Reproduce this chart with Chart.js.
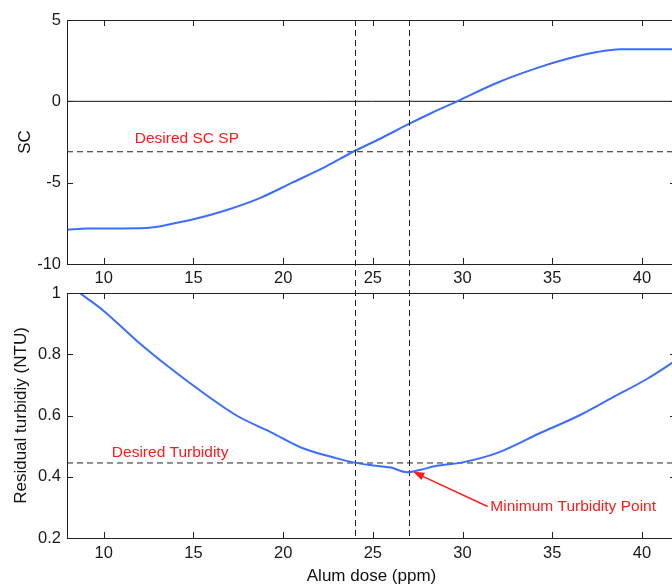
<!DOCTYPE html>
<html>
<head>
<meta charset="utf-8">
<script src="https://cdn.jsdelivr.net/npm/chart.js"></script>
<style>
    html, body { margin: 0; padding: 0; background: #fff; }
    #wrap { position: relative; width: 672px; height: 587px; overflow: hidden; }
    #wrap canvas { position: absolute; left: 0; top: 0; }
</style>
</head>
<body>
<div id="wrap">
    <canvas id="scChart" width="680" height="587"></canvas>
    <canvas id="turbChart" width="680" height="587"></canvas>
</div>
<script>
// --- dados ---
const doseRange = [7.95, 41.9];

const scDose = [7.95, 9.1, 12.4, 14.07, 15.0, 16.86, 18.7, 20.5, 22.4, 23.9, 25.4, 26.9, 28.3, 29.7, 31.9, 34.3, 35.8, 37.5, 38.8, 41.9];
const scValues = [-7.9, -7.82, -7.78, -7.47, -7.25, -6.68, -5.95, -5.0, -4.0, -3.1, -2.3, -1.45, -0.7, 0.0, 1.13, 2.1, 2.6, 3.03, 3.2, 3.2];

const turbDose = [8.66, 9.95, 11.8, 13.7, 15.5, 17.4, 19.3, 21.1, 23.0, 23.9, 25.0, 26.0, 26.9, 27.6, 28.5, 30.0, 31.9, 34.3, 36.5, 38.4, 40.3, 41.9];
const turbValues = [1.0, 0.944, 0.846, 0.755, 0.676, 0.60, 0.546, 0.493, 0.46, 0.447, 0.437, 0.43, 0.415, 0.422, 0.435, 0.447, 0.477, 0.542, 0.60, 0.66, 0.72, 0.78];

const scTicks = [-10, 5];          // min / max do eixo SC
const turbTicks = [0.2, 1];        // min / max do eixo de turbidez
const desiredSC = -3.1;
const desiredTurbidity = 0.445;
const markerDoses = [24, 27];      // linhas verticais tracejadas
const minPoint = [27.25, 0.416];   // ponta da seta
const minLabelPos = [31.4, 0.303]; // início da seta / texto

// --- layout ---
const AREA_LEFT = 67;
const TOP_AREA = { top: 20, bottom: 264 };
const BOT_AREA = { top: 293, bottom: 538 };
const CANVAS_H = 587;

const BLUE = '#3c6dff';
const RED = '#ff1a1a';
const FONT = 'Liberation Sans, Arial, Helvetica, sans-serif';

const toXY = (xs, ys) => xs.map((x, i) => ({ x: x, y: ys[i] }));
const fmt = (v) => String(+v.toFixed(2));

// moldura completa + ticks para dentro (estilo matlab)
const frameTicks = {
    id: 'frameTicks',
    afterDraw(chart) {
        const { ctx, chartArea: a, scales } = chart;
        const x = scales.x, y = scales.y;
        ctx.save();
        ctx.strokeStyle = '#222';
        ctx.lineWidth = 1;
        ctx.strokeRect(a.left + 0.5, a.top + 0.5, a.right - a.left, a.bottom - a.top);
        ctx.beginPath();
        x.ticks.forEach(t => {
            const px = Math.round(x.getPixelForValue(t.value)) + 0.5;
            ctx.moveTo(px, a.top); ctx.lineTo(px, a.top + 6);
            ctx.moveTo(px, a.bottom); ctx.lineTo(px, a.bottom - 6);
        });
        y.ticks.forEach(t => {
            const py = Math.round(y.getPixelForValue(t.value)) + 0.5;
            ctx.moveTo(a.left, py); ctx.lineTo(a.left + 6, py);
            ctx.moveTo(a.right, py); ctx.lineTo(a.right - 6, py);
        });
        ctx.stroke();
        ctx.restore();
    }
};

// linhas verticais tracejadas que atravessam os dois gráficos (desenhadas uma vez só)
const verticalMarkers = {
    id: 'verticalMarkers',
    afterDatasetsDraw(chart) {
        const { ctx, scales: { x } } = chart;
        ctx.save();
        ctx.strokeStyle = '#222';
        ctx.lineWidth = 1;
        ctx.setLineDash([6, 4]);
        markerDoses.forEach(d => {
            const px = Math.round(x.getPixelForValue(d)) + 0.5;
            ctx.beginPath();
            ctx.moveTo(px, TOP_AREA.top);
            ctx.lineTo(px, BOT_AREA.bottom);
            ctx.stroke();
        });
        ctx.restore();
    }
};

function drawLabel(chart, text, xv, yv) {
    const { ctx, scales: { x, y } } = chart;
    ctx.save();
    ctx.fillStyle = RED;
    ctx.font = '15.5px ' + FONT;
    ctx.textBaseline = 'middle';
    ctx.fillText(text, x.getPixelForValue(xv), y.getPixelForValue(yv));
    ctx.restore();
}

const scAnnotations = {
    id: 'scAnnotations',
    afterDraw(chart) {
        drawLabel(chart, 'Desired SC SP', 11.73, -2.31);
    }
};

const turbAnnotations = {
    id: 'turbAnnotations',
    afterDraw(chart) {
        const { ctx, scales: { x, y } } = chart;
        drawLabel(chart, 'Desired Turbidity', 10.45, 0.48);
        drawLabel(chart, 'Minimum Turbidity Point', minLabelPos[0] + 0.15, minLabelPos[1]);

        // seta vermelha
        const x0 = x.getPixelForValue(minLabelPos[0]), y0 = y.getPixelForValue(minLabelPos[1]);
        const x1 = x.getPixelForValue(minPoint[0]), y1 = y.getPixelForValue(minPoint[1]);
        const ang = Math.atan2(y1 - y0, x1 - x0);
        const len = 11, half = 4;
        ctx.save();
        ctx.strokeStyle = RED;
        ctx.fillStyle = RED;
        ctx.lineWidth = 1.5;
        ctx.beginPath();
        ctx.moveTo(x0, y0);
        ctx.lineTo(x1 - Math.cos(ang) * len * 0.8, y1 - Math.sin(ang) * len * 0.8);
        ctx.stroke();
        ctx.beginPath();
        ctx.moveTo(x1, y1);
        ctx.lineTo(x1 - Math.cos(ang) * len - Math.sin(ang) * half, y1 - Math.sin(ang) * len + Math.cos(ang) * half);
        ctx.lineTo(x1 - Math.cos(ang) * len + Math.sin(ang) * half, y1 - Math.sin(ang) * len - Math.cos(ang) * half);
        ctx.closePath();
        ctx.fill();
        ctx.restore();
    }
};

function baseOptions(area, xHeight, yRange, yTitle, yTitlePad, xOpts) {
    return {
        responsive: false,
        animation: false,
        events: [],
        layout: {
            padding: { top: area.top, bottom: CANVAS_H - area.bottom - xHeight, left: 0, right: 4 }
        },
        plugins: { legend: { display: false }, tooltip: { enabled: false } },
        scales: {
            x: {
                type: 'linear',
                min: doseRange[0],
                max: doseRange[1],
                grid: { display: false, drawTicks: false },
                border: { display: false },
                ticks: {
                    stepSize: 5,
                    includeBounds: false,
                    maxRotation: 0,
                    padding: xOpts.tickPad,
                    color: '#1a1a1a',
                    font: { family: FONT, size: 16.5 },
                    callback: fmt
                },
                title: xOpts.title,
                afterFit: (s) => { s.height = xHeight; }
            },
            y: {
                type: 'linear',
                min: yRange[0],
                max: yRange[1],
                grid: { display: false, drawTicks: false },
                border: { display: false },
                ticks: {
                    stepSize: yRange[2],
                    includeBounds: false,
                    padding: 6,
                    color: '#1a1a1a',
                    font: { family: FONT, size: 16.5 },
                    callback: fmt
                },
                title: {
                    display: true,
                    text: yTitle,
                    color: '#111',
                    font: { family: FONT, size: 17 },
                    padding: { top: yTitlePad, bottom: 0 }
                },
                afterFit: (s) => { s.width = AREA_LEFT; }
            }
        }
    };
}

function hLine(yv, dashed, color) {
    return {
        data: [{ x: doseRange[0], y: yv }, { x: doseRange[1], y: yv }],
        borderColor: color,
        borderWidth: 1,
        borderDash: dashed ? [6, 4] : [],
        pointRadius: 0
    };
}

function curve(xs, ys) {
    return {
        data: toXY(xs, ys),
        borderColor: BLUE,
        borderWidth: 2,
        pointRadius: 0,
        cubicInterpolationMode: 'monotone'
    };
}

// gráfico superior: SC
new Chart(document.getElementById('scChart').getContext('2d'), {
    type: 'line',
    data: {
        datasets: [curve(scDose, scValues), hLine(0, false, '#111'), hLine(desiredSC, true, '#222')]
    },
    options: baseOptions(TOP_AREA, 26, [scTicks[0], scTicks[1], 5], 'SC', 15,
        { tickPad: 5, title: { display: false } }),
    plugins: [frameTicks, verticalMarkers, scAnnotations]
});

// gráfico inferior: turbidez residual
new Chart(document.getElementById('turbChart').getContext('2d'), {
    type: 'line',
    data: {
        datasets: [curve(turbDose, turbValues), hLine(desiredTurbidity, true, '#222')]
    },
    options: baseOptions(BOT_AREA, CANVAS_H - BOT_AREA.bottom, [turbTicks[0], turbTicks[1], 0.2], 'Residual turbidiy (NTU)', 11,
        {
            tickPad: 6,
            title: {
                display: true,
                text: 'Alum dose (ppm)',
                color: '#111',
                font: { family: FONT, size: 17 },
                padding: { top: 0, bottom: 0 }
            }
        }),
    plugins: [frameTicks, turbAnnotations]
});
</script>
</body>
</html>
